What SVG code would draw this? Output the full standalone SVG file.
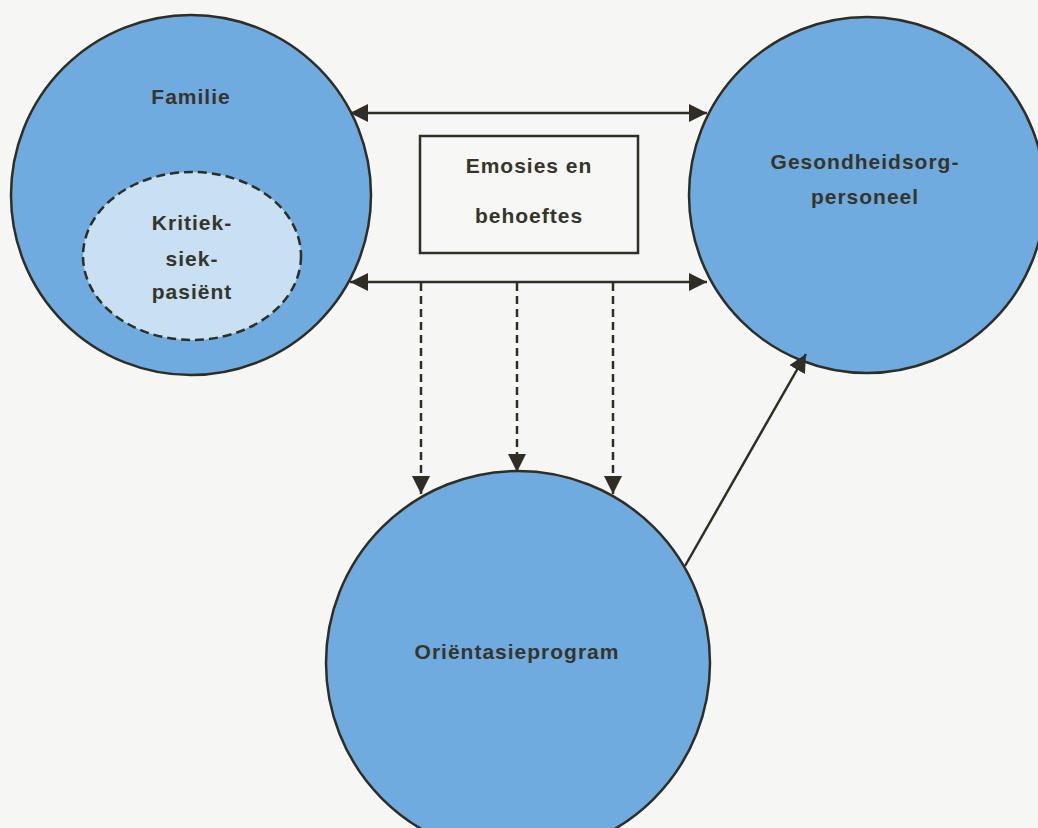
<svg xmlns="http://www.w3.org/2000/svg" width="1038" height="828" viewBox="0 0 1038 828">
<defs>
<style>
.node{fill:#70abdf;stroke:#2e2e26;stroke-width:2.5}
.inner{fill:#c9dff2;stroke:#2e2e26;stroke-width:2.5;stroke-dasharray:9 5}
.box{fill:#f7f7f5;stroke:#2e2e26;stroke-width:2.5}
.lbl{font-family:"Liberation Sans",Arial,sans-serif;font-weight:bold;font-size:21px;letter-spacing:1px;fill:#35352c;text-anchor:middle}
.con{stroke:#2e2e26;stroke-width:2.5;fill:none}
.dash{stroke-dasharray:8 5}
</style>
<marker id="ah" viewBox="0 0 10 10" refX="10" refY="5" markerWidth="18" markerHeight="18" markerUnits="userSpaceOnUse" orient="auto-start-reverse">
<path d="M0,0 L10,5 L0,10 Z" fill="#2e2e26"/>
</marker>
</defs>
<rect width="1038" height="828" fill="#f6f6f4"/>
<g id="familie">
<circle class="node" cx="191" cy="195" r="180"/>
<text class="lbl" x="191" y="104">Familie</text>
</g>
<g id="pasient">
<ellipse class="inner" cx="192" cy="256" rx="109" ry="84"/>
<text class="lbl" x="192" y="230">Kritiek-</text>
<text class="lbl" x="192" y="266">siek-</text>
<text class="lbl" x="192" y="299">pasiënt</text>
</g>
<g id="personeel">
<circle class="node" cx="867" cy="195" r="178"/>
<text class="lbl" x="865" y="169">Gesondheidsorg-</text>
<text class="lbl" x="865" y="204">personeel</text>
</g>
<g id="orientasie">
<circle class="node" cx="518" cy="663" r="192"/>
<text class="lbl" x="517" y="659">Oriëntasieprogram</text>
</g>
<g id="emosies">
<rect class="box" x="420" y="136" width="218" height="117"/>
<text class="lbl" x="529" y="173">Emosies en</text>
<text class="lbl" x="529" y="223">behoeftes</text>
</g>
<g id="connectors">
<line class="con" x1="350" y1="113" x2="707" y2="113" marker-start="url(#ah)" marker-end="url(#ah)"/>
<line class="con" x1="350" y1="282" x2="707" y2="282" marker-start="url(#ah)" marker-end="url(#ah)"/>
<line class="con dash" x1="421" y1="283" x2="421" y2="494" marker-end="url(#ah)"/>
<line class="con dash" x1="517" y1="283" x2="517" y2="472" marker-end="url(#ah)"/>
<line class="con dash" x1="613" y1="283" x2="613" y2="494" marker-end="url(#ah)"/>
<line class="con" x1="685" y1="566" x2="806" y2="354" marker-end="url(#ah)"/>
</g>
</svg>
